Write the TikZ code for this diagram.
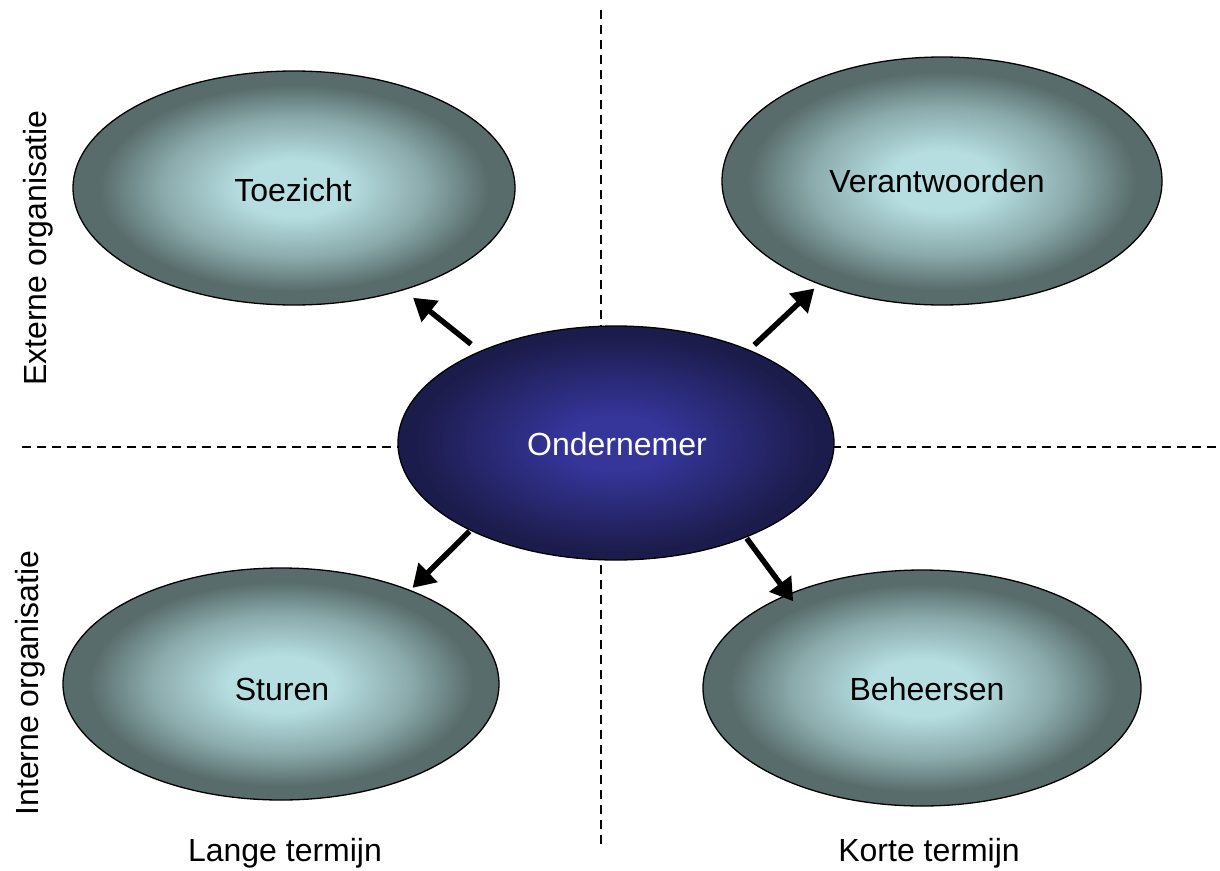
\documentclass[tikz,border=0pt]{standalone}
\usepackage{fontspec}
\setmainfont{Liberation Sans}
\usetikzlibrary{shapes.geometric,arrows.meta}
\definecolor{tealin}{HTML}{B6DEE1}
\definecolor{tealmid}{HTML}{8AA9AA}
\definecolor{tealout}{HTML}{586C6B}
\definecolor{bluein}{HTML}{35359A}
\definecolor{blueout}{HTML}{1C1C4C}
\pgfdeclareradialshading{tealglow}{\pgfpoint{0bp}{0bp}}{color(0bp)=(tealin); color(6bp)=(tealin); color(15bp)=(tealmid); color(22bp)=(tealout); color(25bp)=(tealout); color(50bp)=(tealout)}
\pgfdeclareradialshading{blueglow}{\pgfpoint{0bp}{0bp}}{color(0bp)=(bluein); color(6bp)=(bluein); color(23bp)=(blueout); color(25bp)=(blueout); color(50bp)=(blueout)}
\tikzset{
  txt/.style={font=\fontsize{32}{38}\selectfont, inner sep=0pt},
  bubble/.style={ellipse, draw=black, line width=1.3pt, inner sep=0pt, shading=tealglow, font=\fontsize{32}{38}\selectfont},
  core/.style={ellipse, draw=black, line width=1.3pt, inner sep=0pt, shading=blueglow, text=white, font=\fontsize{32}{38}\selectfont},
  divider/.style={line width=2pt, dash pattern=on 9pt off 6pt},
  arr/.style={line width=5.5pt, -{Triangle[length=22pt,width=26pt]}}
}
\begin{document}
\begin{tikzpicture}[x=1pt,y=-1pt]
\useasboundingbox (0,0) rectangle (1220,870);
\coordinate (vt) at (601,10);
\coordinate (vb) at (601,845);
\coordinate (hl) at (22,447);
\coordinate (hr) at (1218,447);
\draw[divider] (vt) -- (vb);
\draw[divider] (hl) -- (hr);
\node[bubble, minimum width=442pt, minimum height=234pt] (t) at (294,188) {};
\node[txt] (tl) at (293,190) {Toezicht};
\node[bubble, minimum width=440pt, minimum height=248pt] (v) at (942,181) {};
\node[txt] (vl) at (937,181) {Verantwoorden};
\node[bubble, minimum width=436pt, minimum height=232pt] (s) at (281,684) {};
\node[txt] (sl) at (282,689) {Sturen};
\node[bubble, minimum width=438pt, minimum height=236pt] (b) at (922,688) {};
\node[txt] (bl) at (927,689) {Beheersen};
\node[core, minimum width=436pt, minimum height=234pt] (o) at (616,443) {};
\node[txt, text=white] (ol) at (617,444) {Ondernemer};
\draw[arr, shorten <=11pt, shorten >=12pt] (o.146.6) -- (t.-43);
\draw[arr, shorten <=7pt, shorten >=6pt] (o.35.1) -- (v.-140.6);
\draw[arr, shorten <=1pt, shorten >=3pt] (o.-149.2) -- (s.36.6);
\draw[arr, shorten <=1pt, shorten >=-9pt] (o.-36.9) -- (b.145.3);
\node[txt, rotate=90] (ext) at (38,248) {Externe organisatie};
\node[txt, rotate=90] (int) at (30,683) {Interne organisatie};
\node[txt] (lt) at (285,853) {Lange termijn};
\node[txt] (kt) at (929,853) {Korte termijn};
\end{tikzpicture}
\end{document}
